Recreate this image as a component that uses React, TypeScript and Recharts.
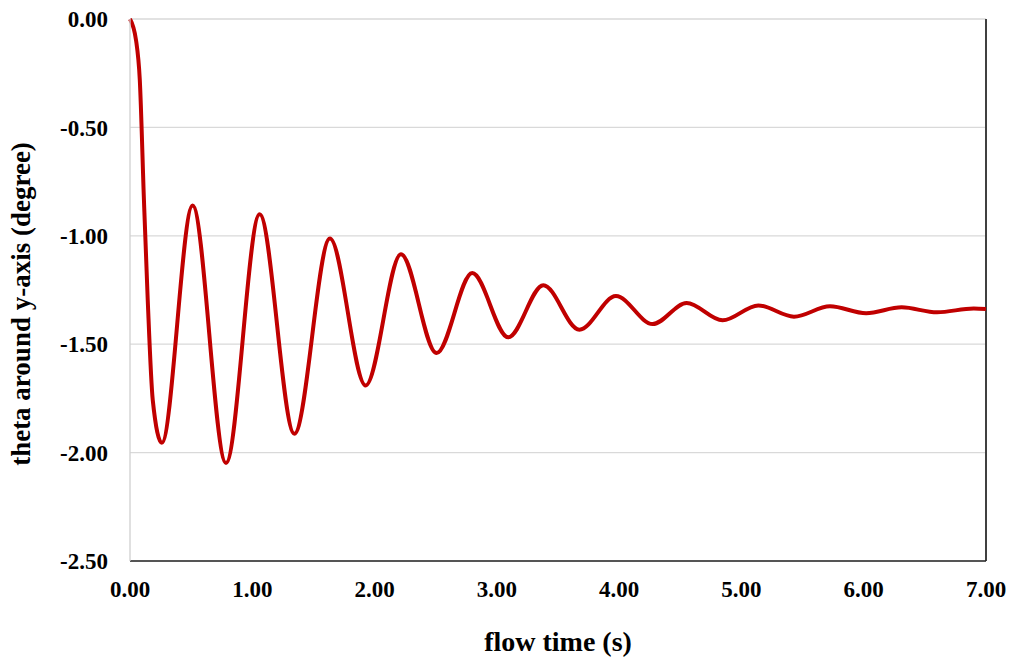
import React from "react";
import { LineChart, Line, XAxis, YAxis, CartesianGrid, ReferenceLine } from "recharts";

// flow time (s) at read points (start, descent, then successive extrema)
const flowTime = [
  0, 0.05, 0.08, 0.114, 0.145, 0.186, 0.26, 0.512, 0.785, 1.06, 1.344, 1.635,
  1.927, 2.216, 2.507, 2.799, 3.093, 3.38, 3.675, 3.974, 4.274, 4.552, 4.846,
  5.138, 5.43, 5.724, 6.02, 6.31, 6.6, 6.9, 7.0,
];
// theta around y-axis (degree)
const theta = [
  0, -0.1, -0.28, -0.835, -1.296, -1.757, -1.955, -0.86, -2.048, -0.901, -1.913,
  -1.013, -1.69, -1.085, -1.541, -1.172, -1.468, -1.228, -1.433, -1.278, -1.407,
  -1.31, -1.39, -1.321, -1.373, -1.325, -1.357, -1.33, -1.353, -1.335, -1.338,
];
const xTicks = [0, 1, 2, 3, 4, 5, 6, 7];
const yTicks = [-2.5, -2.0, -1.5, -1.0, -0.5, 0];

const data = flowTime.map((t, i) => ({ t, theta: theta[i] }));

const FONT = "'Liberation Serif', 'Times New Roman', serif";
const tickStyle = { fontFamily: FONT, fontSize: 23, fontWeight: 700, fill: "#000" };

export default function App() {
  return (
    <div style={{ margin: "-8px 0 0 -8px", width: 1020, height: 664 }}>
      <LineChart
        width={1020}
        height={664}
        data={data}
        margin={{ top: 19, right: 34, left: 0, bottom: 0 }}
      >
        <CartesianGrid vertical={false} stroke="#d9d9d9" strokeWidth={1.3} />
        <XAxis
          dataKey="t"
          type="number"
          domain={[0, 7]}
          ticks={xTicks}
          tickFormatter={(v: number) => v.toFixed(2)}
          tickLine={false}
          tickSize={0}
          tickMargin={20}
          height={103}
          axisLine={{ stroke: "#262626", strokeWidth: 1.3 }}
          tick={tickStyle}
          interval={0}
          label={{
            content: () => (
              <text
                x={558}
                y={641}
                textAnchor="middle"
                dominantBaseline="central"
                style={{ fontFamily: FONT, fontSize: 28, fontWeight: 700 }}
                fill="#000"
              >
                flow time (s)
              </text>
            ),
          }}
        />
        <YAxis
          type="number"
          domain={[-2.5, 0]}
          ticks={yTicks}
          tickFormatter={(v: number) => v.toFixed(2)}
          tickLine={false}
          tickSize={0}
          tickMargin={22}
          width={130}
          axisLine={{ stroke: "#d0d0d0", strokeWidth: 1.3 }}
          tick={tickStyle}
          interval={0}
          label={{
            content: () => (
              <text
                x={21}
                y={304}
                textAnchor="middle"
                dominantBaseline="central"
                transform="rotate(-90 21 304)"
                style={{ fontFamily: FONT, fontSize: 27, fontWeight: 700 }}
                fill="#000"
              >
                theta around y-axis (degree)
              </text>
            ),
          }}
        />
        <ReferenceLine x={7} stroke="#404040" strokeWidth={2} />
        <Line
          type="monotone"
          dataKey="theta"
          stroke="#c00000"
          strokeWidth={4}
          dot={false}
          isAnimationActive={false}
        />
      </LineChart>
    </div>
  );
}
